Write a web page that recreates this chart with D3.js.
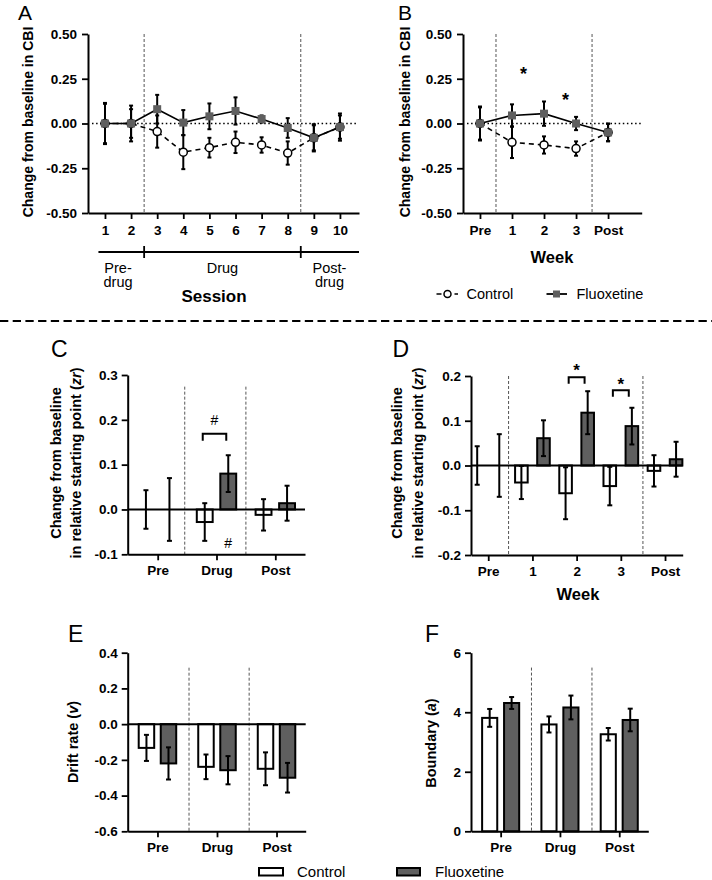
<!DOCTYPE html>
<html><head><meta charset="utf-8">
<script src="https://cdn.jsdelivr.net/npm/d3@7"></script>
<style>body{margin:0;background:#fff} svg{display:block} text{font-family:"Liberation Sans",Arial,Helvetica,sans-serif}</style>
</head><body><svg id="c" width="712" height="880"></svg>
<script>
// ---------------- DATA ----------------
const sessions = [1,2,3,4,5,6,7,8,9,10];
const sessionCtrl    = [0, 0, -0.045, -0.16, -0.135, -0.105, -0.12, -0.165, -0.08, -0.02];
const sessionCtrlErr = [0.115, 0.10, 0.09, 0.095, 0.055, 0.06, 0.043, 0.065, 0.07, 0.065];
const sessionFlx     = [0, 0, 0.08, 0.005, 0.04, 0.07, 0.025, -0.025, -0.08, -0.02];
const sessionFlxErr  = [0.11, 0.08, 0.08, 0.07, 0.072, 0.076, 0.02, 0.055, 0.076, 0.076];

const weeks = ["Pre","1","2","3","Post"];
const weekCtrl    = [0, -0.105, -0.12, -0.14, -0.05];
const weekCtrlErr = [0.095, 0.088, 0.048, 0.04, 0.05];
const weekFlx     = [0, 0.045, 0.055, 0.0, -0.05];
const weekFlxErr  = [0.09, 0.062, 0.068, 0.037, 0.048];

const phases = ["Pre","Drug","Post"];
const zrPhaseCtrl    = [0, -0.028, -0.012];
const zrPhaseCtrlErr = [0.043, 0.042, 0.035];
const zrPhaseFlx     = [0, 0.08, 0.014];
const zrPhaseFlxErr  = [0.07, 0.041, 0.039];

const zrWeekCtrl    = [0, -0.038, -0.062, -0.046, -0.012];
const zrWeekCtrlErr = [0.043, 0.037, 0.058, 0.043, 0.035];
const zrWeekFlx     = [0, 0.061, 0.118, 0.088, 0.014];
const zrWeekFlxErr  = [0.07, 0.04, 0.048, 0.041, 0.039];

const driftCtrl    = [-0.133, -0.239, -0.25];
const driftCtrlErr = [0.073, 0.069, 0.092];
const driftFlx     = [-0.22, -0.258, -0.30];
const driftFlxErr  = [0.09, 0.079, 0.083];

const boundCtrl    = [3.81, 3.59, 3.26];
const boundCtrlErr = [0.30, 0.27, 0.21];
const boundFlx     = [4.31, 4.16, 3.74];
const boundFlxErr  = [0.20, 0.40, 0.38];

const ticksCBI   = [-0.5, -0.25, 0, 0.25, 0.5];
const ticksZrC   = [-0.1, 0, 0.1, 0.2, 0.3];
const ticksZrD   = [-0.2, -0.1, 0, 0.1, 0.2];
const ticksDrift = [-0.6, -0.4, -0.2, 0, 0.2, 0.4];
const ticksBound = [0, 2, 4, 6];

const starsB   = [{x: 1.36, y: 0.30}, {x: 2.67, y: 0.157}];
const bracketsC = [{i: 1, y: 0.169, label: "#", labelY: 0.2}];
const extraC    = [{i: 1, side: 1, y: -0.074, label: "#"}];
const bracketsD = [{i: 2, y: 0.197, label: "*", labelY: 0.221}, {i: 3, y: 0.168, label: "*", labelY: 0.191}];

// ---------------- DRAWING ----------------
const FONT = '"Liberation Sans", Arial, Helvetica, sans-serif';
const GREY = '#5f5f5f';
const svg = d3.select('#c');

function styleAxis(g, fs) {
  g.attr('font-family', null).attr('font-size', null);
  g.select('.domain').attr('stroke', '#000').attr('stroke-width', 2);
  g.selectAll('.tick line').attr('stroke', '#000').attr('stroke-width', 1.8);
  g.selectAll('.tick text').attr('fill', '#000').style('font-family', FONT)
    .style('font-weight', 'bold').style('font-size', fs + 'px');
}
function errBar(g, cx, ya, yb, cap) {
  g.append('line').attr('x1', cx).attr('x2', cx).attr('y1', ya).attr('y2', yb)
    .attr('stroke', '#000').attr('stroke-width', 2);
  [ya, yb].forEach(v => g.append('line').attr('x1', cx - cap).attr('x2', cx + cap)
    .attr('y1', v).attr('y2', v).attr('stroke', '#000').attr('stroke-width', 2));
}
function txt(g, x, y, s, o = {}) {
  return g.append('text').attr('x', x).attr('y', y).text(s)
    .attr('text-anchor', o.anchor || 'middle')
    .style('font-size', (o.size || 14) + 'px')
    .style('font-weight', o.bold ? 'bold' : 'normal')
    .attr('fill', '#000');
}
function yLabel(g, x, y, parts, size) {
  const t = g.append('text').attr('transform', `translate(${x},${y}) rotate(-90)`)
    .attr('text-anchor', 'middle').attr('dominant-baseline', 'central')
    .style('font-size', size + 'px').style('font-weight', 'bold');
  parts.forEach(p => t.append('tspan').text(p.t).style('font-style', p.i ? 'italic' : 'normal'));
}
function divider(g, xp, y1, y2) {
  g.append('line').attr('x1', xp).attr('x2', xp).attr('y1', y1).attr('y2', y2)
    .attr('stroke', '#555').attr('stroke-width', 1).attr('stroke-dasharray', '3,2');
}

function linePanel(o) {
  const g = svg.append('g');
  const x = d3.scaleLinear().domain(o.xDomain).range(o.xRange);
  const y = d3.scaleLinear().domain([-0.5, 0.5]).range(o.yRange);
  g.append('line').attr('x1', o.xRange[0] + 4).attr('x2', o.xRange[1] - 1)
    .attr('y1', y(0)).attr('y2', y(0)).attr('stroke', '#000')
    .attr('stroke-width', 1.3).attr('stroke-dasharray', '1.5,2.6');
  o.dividers.forEach(d => divider(g, x(d), o.yRange[1], o.yRange[0]));
  const line = d3.line().x((d, i) => x(o.xs[i])).y(d => y(d));
  g.append('path').datum(o.ctrl).attr('d', line).attr('fill', 'none')
    .attr('stroke', '#000').attr('stroke-width', 1.6).attr('stroke-dasharray', '5,4');
  g.append('path').datum(o.flx).attr('d', line).attr('fill', 'none')
    .attr('stroke', '#000').attr('stroke-width', 1.6);
  o.ctrl.forEach((v, i) => errBar(g, x(o.xs[i]), y(v + o.ctrlErr[i]), y(v - o.ctrlErr[i]), 2));
  o.flx.forEach((v, i) => errBar(g, x(o.xs[i]), y(v + o.flxErr[i]), y(v - o.flxErr[i]), 2));
  g.selectAll('circle.c').data(o.ctrl).join('circle').attr('class', 'c')
    .attr('cx', (d, i) => x(o.xs[i])).attr('cy', d => y(d)).attr('r', 4)
    .attr('fill', '#fff').attr('stroke', '#000').attr('stroke-width', 1.5);
  g.selectAll('rect.f').data(o.flx).join('rect').attr('class', 'f')
    .attr('x', (d, i) => x(o.xs[i]) - 4).attr('y', d => y(d) - 4)
    .attr('width', 8).attr('height', 8).attr('fill', GREY);
  const ya = g.append('g').attr('transform', `translate(${o.xRange[0]},0)`)
    .call(d3.axisLeft(y).tickValues(ticksCBI).tickSize(6).tickSizeOuter(0).tickPadding(5)
      .tickFormat(d => d.toFixed(2)));
  styleAxis(ya, 13.5);
  const xa = g.append('g').attr('transform', `translate(0,${o.yRange[0]})`)
    .call(d3.axisBottom(x).tickValues(o.xs).tickSize(6).tickSizeOuter(0).tickPadding(6)
      .tickFormat(o.xFmt));
  styleAxis(xa, 13.5);
  return {g, x, y};
}

function barPanel(o) {
  const g = svg.append('g');
  const x = d3.scaleLinear().domain(o.xDomain).range(o.xRange);
  const y = d3.scaleLinear().domain(o.yDomain).range(o.yRange);
  o.dividers.forEach(d => divider(g, x(d), y(o.divTop), y(o.yDomain[0])));
  const bw = x(o.bw) - x(0);
  const series = [
    {v: o.ctrl, e: o.ctrlErr, side: -1, fill: '#fff'},
    {v: o.flx, e: o.flxErr, side: 1, fill: GREY}
  ];
  series.forEach(s => {
    g.selectAll(null).data(s.v).join('rect')
      .attr('x', (d, i) => x(i + s.side * o.off) - bw / 2)
      .attr('y', d => y(Math.max(d, 0)))
      .attr('width', bw)
      .attr('height', d => Math.abs(y(d) - y(0)))
      .attr('fill', s.fill).attr('stroke', '#000').attr('stroke-width', 2);
  });
  if (o.yDomain[0] < 0) {
    g.append('line').attr('x1', o.xRange[0]).attr('x2', o.xRange[1])
      .attr('y1', y(0)).attr('y2', y(0)).attr('stroke', '#000').attr('stroke-width', 2);
  }
  series.forEach(s => s.v.forEach((v, i) =>
    errBar(g, x(i + s.side * o.off), y(v + s.e[i]), y(v - s.e[i]), 2.5)));
  const ya = g.append('g').attr('transform', `translate(${o.xRange[0]},0)`)
    .call(d3.axisLeft(y).tickValues(o.ticks).tickSize(6).tickSizeOuter(0).tickPadding(4)
      .tickFormat(o.fmt));
  styleAxis(ya, 13.5);
  const xa = g.append('g').attr('transform', `translate(0,${o.yRange[0]})`)
    .call(d3.axisBottom(x).tickValues(o.cats.map((c, i) => i)).tickSize(6).tickSizeOuter(0)
      .tickPadding(5).tickFormat(i => o.cats[i]));
  styleAxis(xa, 13.5);
  return {g, x, y};
}
function bracket(g, x1, x2, yy, leg) {
  g.append('path').attr('d', `M${x1},${yy + leg}V${yy}H${x2}V${yy + leg}`)
    .attr('fill', 'none').attr('stroke', '#000').attr('stroke-width', 2);
}

// ---- Panel A ----
const A = linePanel({
  xDomain: [0.35, 10.73], xRange: [88, 359], yRange: [213, 34],
  xs: sessions, xFmt: d => d, dividers: [2.5, 8.5],
  ctrl: sessionCtrl, ctrlErr: sessionCtrlErr, flx: sessionFlx, flxErr: sessionFlxErr
});
txt(A.g, 18, 19.5, 'A', {anchor: 'start', size: 21});
yLabel(A.g, 28, 122, [{t: 'Change from baseline in CBI'}], 14);
// session grouping bracket
A.g.append('line').attr('x1', A.x(0.75)).attr('x2', 359).attr('y1', 252).attr('y2', 252)
  .attr('stroke', '#000').attr('stroke-width', 2);
[2.5, 8.5].forEach(d => A.g.append('line').attr('x1', A.x(d)).attr('x2', A.x(d))
  .attr('y1', 246).attr('y2', 258).attr('stroke', '#000').attr('stroke-width', 1.8));
txt(A.g, A.x(1.5), 272.5, 'Pre-', {size: 14.5});
txt(A.g, A.x(1.5), 287, 'drug', {size: 14.5});
txt(A.g, A.x(5.5), 272.5, 'Drug', {size: 14.5});
txt(A.g, A.x(9.6), 272.5, 'Post-', {size: 14.5});
txt(A.g, A.x(9.6), 287, 'drug', {size: 14.5});
txt(A.g, 214, 302, 'Session', {size: 17, bold: true});

// ---- Panel B ----
const B = linePanel({
  xDomain: [-0.53, 5.05], xRange: [463, 641.7], yRange: [213, 34],
  xs: weeks.map((w, i) => i), xFmt: i => weeks[i], dividers: [0.5, 3.5],
  ctrl: weekCtrl, ctrlErr: weekCtrlErr, flx: weekFlx, flxErr: weekFlxErr
});
txt(B.g, 398, 19.5, 'B', {anchor: 'start', size: 21});
yLabel(B.g, 405, 122, [{t: 'Change from baseline in CBI'}], 14);
txt(B.g, 552, 262.5, 'Week', {size: 16.5, bold: true});
starsB.forEach(s => txt(B.g, B.x(s.x), B.y(s.y) + 0.58 * 18, '*', {size: 18, bold: true}));

// middle legend
const L1 = svg.append('g');
L1.append('line').attr('x1', 436.5).attr('x2', 458).attr('y1', 294).attr('y2', 294)
  .attr('stroke', '#000').attr('stroke-width', 1.6).attr('stroke-dasharray', '5,4');
L1.append('circle').attr('cx', 447.5).attr('cy', 294).attr('r', 3.5)
  .attr('fill', '#fff').attr('stroke', '#000').attr('stroke-width', 1.5);
txt(L1, 466.5, 299, 'Control', {anchor: 'start', size: 14.5});
L1.append('line').attr('x1', 546.5).attr('x2', 567).attr('y1', 294).attr('y2', 294)
  .attr('stroke', '#000').attr('stroke-width', 1.8);
L1.append('rect').attr('x', 553).attr('y', 290.5).attr('width', 7).attr('height', 7).attr('fill', GREY);
txt(L1, 576.5, 299, 'Fluoxetine', {anchor: 'start', size: 14.5});

// separator
svg.append('line').attr('x1', 0).attr('x2', 712).attr('y1', 321).attr('y2', 321)
  .attr('stroke', '#000').attr('stroke-width', 2).attr('stroke-dasharray', '8.3,4.4');

// ---- Panel C ----
const C = barPanel({
  xDomain: [-0.51, 2.505], xRange: [127.7, 305], yDomain: [-0.1, 0.3], yRange: [554.3, 375],
  cats: phases, dividers: [0.46, 1.5], divTop: 0.274, bw: 0.27, off: 0.2,
  ctrl: zrPhaseCtrl, ctrlErr: zrPhaseCtrlErr, flx: zrPhaseFlx, flxErr: zrPhaseFlxErr,
  ticks: ticksZrC, fmt: d => d.toFixed(1)
});
txt(C.g, 51, 357, 'C', {anchor: 'start', size: 23});
yLabel(C.g, 56, 463, [{t: 'Change from baseline'}], 14.5);
yLabel(C.g, 76, 463, [{t: 'in relative starting point ('}, {t: 'zr', i: true}, {t: ')'}], 14.5);
bracketsC.forEach(b => {
  bracket(C.g, C.x(b.i - 0.2) - 2, C.x(b.i + 0.2) - 2, C.y(b.y), 7);
  txt(C.g, C.x(b.i) - 2, C.y(b.labelY) + 5, b.label, {size: 14});
});
extraC.forEach(b => txt(C.g, C.x(b.i + b.side * 0.2), C.y(b.y) + 5, b.label, {size: 14}));

// ---- Panel D ----
const D = barPanel({
  xDomain: [-0.39, 4.4], xRange: [471, 682.7], yDomain: [-0.2, 0.2], yRange: [555, 376],
  cats: weeks, dividers: [0.46, 3.5], divTop: 0.2, bw: 0.285, off: 0.25,
  ctrl: zrWeekCtrl, ctrlErr: zrWeekCtrlErr, flx: zrWeekFlx, flxErr: zrWeekFlxErr,
  ticks: ticksZrD, fmt: d => d.toFixed(1)
});
txt(D.g, 392.5, 356.7, 'D', {anchor: 'start', size: 23});
yLabel(D.g, 396.7, 463, [{t: 'Change from baseline'}], 14.5);
yLabel(D.g, 418.3, 463, [{t: 'in relative starting point ('}, {t: 'zr', i: true}, {t: ')'}], 14.5);
bracketsD.forEach(b => {
  bracket(D.g, D.x(b.i - 0.18), D.x(b.i + 0.18), D.y(b.y), 6.5);
  txt(D.g, D.x(b.i), D.y(b.labelY) + 0.58 * 17, b.label, {size: 17, bold: true});
});
txt(D.g, 578, 600, 'Week', {size: 16.5, bold: true});

// ---- Panel E ----
const E = barPanel({
  xDomain: [-0.5, 2.49], xRange: [127.7, 305.7], yDomain: [-0.6, 0.4], yRange: [831.3, 652.7],
  cats: phases, dividers: [0.53, 1.54], divTop: 0.316, bw: 0.26, off: 0.185,
  ctrl: driftCtrl, ctrlErr: driftCtrlErr, flx: driftFlx, flxErr: driftFlxErr,
  ticks: ticksDrift, fmt: d => d.toFixed(1)
});
txt(E.g, 68, 642, 'E', {anchor: 'start', size: 23});
yLabel(E.g, 72.7, 742, [{t: 'Drift rate ('}, {t: 'v', i: true}, {t: ')'}], 14.5);

// ---- Panel F ----
const F = barPanel({
  xDomain: [-0.5, 2.49], xRange: [471, 648.3], yDomain: [0, 6], yRange: [831.3, 652.7],
  cats: phases, dividers: [0.52, 1.54], divTop: 5.5, bw: 0.255, off: 0.185,
  ctrl: boundCtrl, ctrlErr: boundCtrlErr, flx: boundFlx, flxErr: boundFlxErr,
  ticks: ticksBound, fmt: d => d
});
txt(F.g, 425, 642, 'F', {anchor: 'start', size: 23});
yLabel(F.g, 430.7, 743, [{t: 'Boundary ('}, {t: 'a', i: true}, {t: ')'}], 14.5);

// bottom legend
const L2 = svg.append('g');
L2.append('rect').attr('x', 259).attr('y', 868).attr('width', 24).attr('height', 7.5)
  .attr('fill', '#fff').attr('stroke', '#000').attr('stroke-width', 2);
txt(L2, 297, 876.5, 'Control', {anchor: 'start', size: 15});
L2.append('rect').attr('x', 397).attr('y', 868).attr('width', 23).attr('height', 7.5)
  .attr('fill', GREY).attr('stroke', '#000').attr('stroke-width', 2);
txt(L2, 435, 876.5, 'Fluoxetine', {anchor: 'start', size: 15});
</script></body></html>
